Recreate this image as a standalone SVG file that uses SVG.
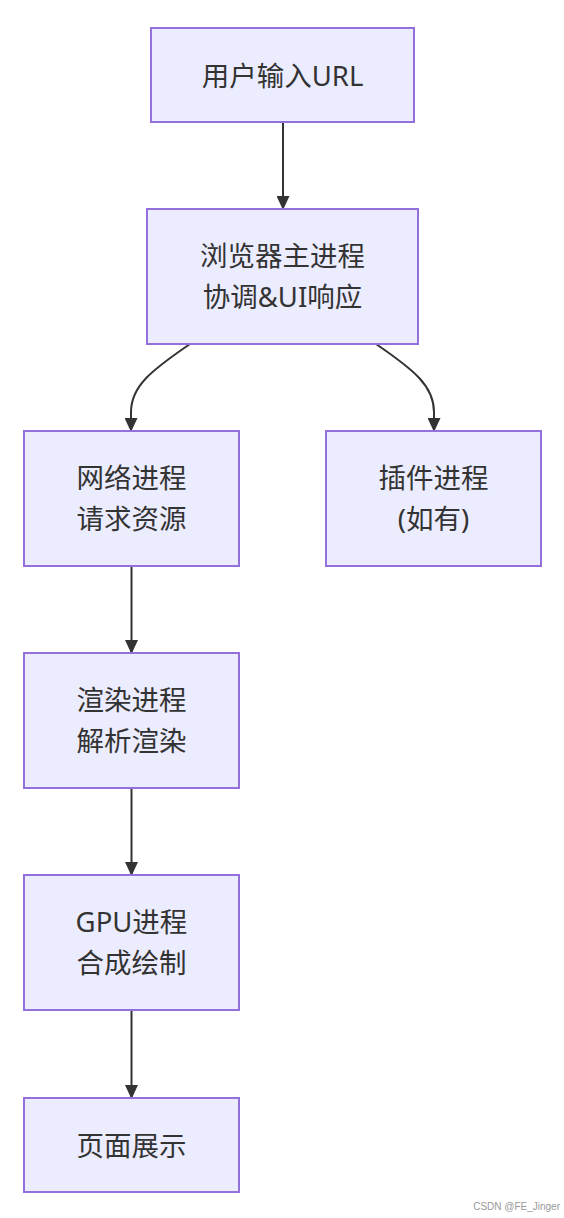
<svg xmlns="http://www.w3.org/2000/svg" width="564" height="1218" viewBox="0 0 564 1218">
<style>
.node rect{fill:#ECECFF;stroke:#9370DB;stroke-width:2}
.node text{font-family:"Noto Sans","Noto Sans CJK SC",sans-serif;font-size:27.5px;fill:#333;text-anchor:middle;dominant-baseline:central}
.edge{fill:none;stroke:#333;stroke-width:2}
.wm{font-family:"Liberation Sans","Noto Sans CJK SC",sans-serif;font-size:10px;fill:#999;text-anchor:end}
</style>
<defs>
<marker id="arrow" viewBox="0 0 14 13" refX="13" refY="6.5" markerWidth="14" markerHeight="13" markerUnits="userSpaceOnUse" orient="auto">
<path d="M0,0 L14,6.5 L0,13 z" fill="#333"/>
</marker>
</defs>
<g id="connectors">
<path class="edge" d="M283,122 L283,209" marker-end="url(#arrow)"/>
<path class="edge" d="M190,344 C152,370 131,386 131,412 L131,431" marker-end="url(#arrow)"/>
<path class="edge" d="M376,344 C414,370 434,386 434,412 L434,431" marker-end="url(#arrow)"/>
<path class="edge" d="M131.5,566 L131.5,653" marker-end="url(#arrow)"/>
<path class="edge" d="M131.5,788 L131.5,875" marker-end="url(#arrow)"/>
<path class="edge" d="M131.5,1010 L131.5,1098" marker-end="url(#arrow)"/>
</g>
<g id="node-url" class="node"><rect x="151" y="28" width="263" height="94"/><text x="282.5" y="75">用户输入URL</text></g>
<g id="node-browser" class="node"><rect x="147" y="209" width="271" height="135"/><text x="282.5" y="255.5">浏览器主进程</text><text x="282.5" y="296.5">协调&amp;UI响应</text></g>
<g id="node-network" class="node"><rect x="24" y="431" width="215" height="135"/><text x="131.5" y="477.5">网络进程</text><text x="131.5" y="518.5">请求资源</text></g>
<g id="node-plugin" class="node"><rect x="326" y="431" width="215" height="135"/><text x="433.5" y="477.5">插件进程</text><text x="433.5" y="518.5">(如有)</text></g>
<g id="node-render" class="node"><rect x="24" y="653" width="215" height="135"/><text x="131.5" y="699.5">渲染进程</text><text x="131.5" y="740.5">解析渲染</text></g>
<g id="node-gpu" class="node"><rect x="24" y="875" width="215" height="135"/><text x="131.5" y="921.5">GPU进程</text><text x="131.5" y="962.5">合成绘制</text></g>
<g id="node-page" class="node"><rect x="24" y="1098" width="215" height="94"/><text x="131.5" y="1145">页面展示</text></g>
<text class="wm" x="560" y="1210">CSDN @FE_Jinger</text>
</svg>
